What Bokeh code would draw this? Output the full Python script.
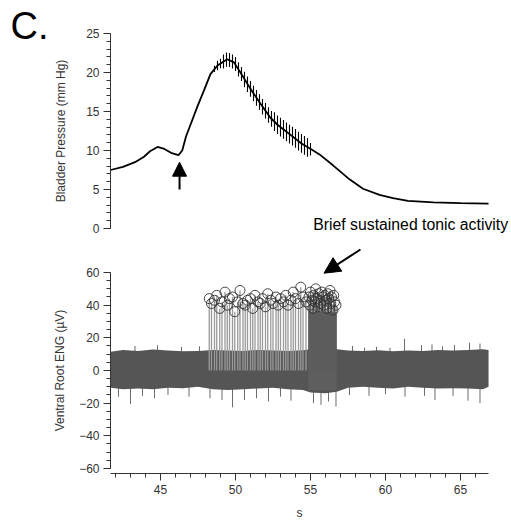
from bokeh.plotting import figure
from bokeh.models import Range1d, Label, Arrow, NormalHead, SingleIntervalTicker, LinearAxis
from bokeh.embed import file_html
from bokeh.resources import INLINE

# ---------------- data ----------------
# bladder pressure trend (s, mm Hg)
press_t = [41.67, 42.5, 43.3, 43.9, 44.3, 44.8, 45.2, 45.7, 46.2, 46.45, 46.7, 47.0, 47.45,
           47.9, 48.33, 48.8, 49.45, 49.9, 50.33, 51.0, 51.67, 52.33, 52.8, 53.67, 54.4,
           55.1, 55.6, 56.5, 57.6, 58.5, 59.6, 60.5, 61.5, 63.2, 65.0, 66.87]
press_v = [7.5, 7.9, 8.5, 9.2, 9.9, 10.45, 10.25, 9.7, 9.4, 10.0, 11.8, 13.3, 15.6,
           17.7, 19.8, 20.9, 21.7, 21.3, 20.0, 17.9, 16.0, 14.2, 13.3, 12.0, 10.9,
           10.1, 9.5, 8.1, 6.3, 5.1, 4.3, 3.9, 3.55, 3.35, 3.25, 3.2]
# pressure pulses (cardiac ripple): time, low, high
pulse_t = [48.6, 48.8, 49.0, 49.2, 49.4, 49.6, 49.8, 50.0, 50.2, 50.4, 50.6, 50.8, 51.0,
           51.2, 51.4, 51.6, 51.8, 52.0, 52.2, 52.4, 52.6, 52.8, 53.0, 53.2, 53.4, 53.6,
           53.8, 54.0, 54.2, 54.4, 54.6, 54.8, 55.0]
pulse_lo = [20.05, 20.3, 20.55, 20.5, 20.75, 20.7, 20.5, 20.2, 19.5, 18.9, 18.1, 17.5, 16.9,
            16.3, 15.75, 15.2, 14.6, 14.1, 13.55, 13.05, 12.5, 12.1, 11.8, 11.5, 11.2, 10.9,
            10.65, 10.35, 10.0, 9.7, 9.45, 9.2, 9.35]
pulse_hi = [20.85, 21.5, 21.75, 22.3, 22.55, 22.5, 22.3, 22.0, 21.3, 20.7, 20.1, 19.5, 18.9,
            18.3, 17.75, 17.2, 16.6, 16.1, 15.55, 15.05, 14.9, 14.5, 14.2, 13.9, 13.6, 13.3,
            13.05, 12.75, 12.4, 12.1, 11.85, 11.6, 10.95]

# ventral root ENG noise envelope (s, µV)
env_t = [41.67, 42.5, 43.5, 44.5, 45.5, 46.5, 47.5, 48.5, 49.5, 50.5, 51.5, 52.5, 53.5, 54.5,
         55.0, 56.0, 56.75, 57.5, 58.5, 59.5, 60.5, 61.5, 62.5, 63.5, 64.5, 65.5, 66.5, 66.87]
env_hi = [11.5, 12.5, 12.0, 12.8, 12.2, 11.8, 12.0, 12.5, 12.3, 12.0, 12.6, 12.2, 12.0, 12.4,
          13.0, 13.5, 13.0, 12.2, 12.0, 12.4, 11.8, 12.2, 12.0, 12.5, 12.2, 12.6, 13.0, 12.5]
env_lo = [-10.5, -11.5, -11.0, -11.5, -10.5, -10.8, -10.0, -11.5, -12.0, -11.5, -11.0, -10.5,
          -11.5, -12.0, -13.5, -14.0, -13.0, -10.5, -10.0, -10.5, -11.0, -10.0, -10.5, -11.0,
          -10.8, -11.0, -11.5, -10.0]
# noise outliers
out_t = [43.3, 44.8, 46.4, 47.6, 57.8, 58.6, 59.4, 60.3, 61.27, 62.4, 63.1, 63.8, 64.6, 65.6, 66.3,
         42.2, 43.0, 43.8, 44.6, 45.5, 46.9, 48.3, 49.1, 49.8, 50.6, 51.4, 52.2, 53.0, 53.7,
         55.2, 55.7, 56.2, 56.7, 57.6, 58.9, 60.0, 61.3, 62.6, 63.3, 64.5, 65.5, 66.3]
out_v = [15, 15.5, 14.5, 14.8, 15, 14, 14.5, 13.8, 19.5, 15.5, 16, 14.8, 15.6, 17, 16.5,
         -16, -20.5, -15.5, -17, -15, -16, -17, -18, -22.5, -18, -17, -19, -16, -18.5,
         -20, -21, -19, -22, -15, -15.5, -14.5, -16, -15.5, -18, -15.6, -18.5, -20]
# detected spikes (sparse part)
spike_t = [48.25, 48.4, 48.6, 48.75, 48.95, 49.1, 49.3, 49.45, 49.6, 49.8, 49.95, 50.15, 50.3,
           50.5, 50.65, 50.8, 51.0, 51.15, 51.3, 51.5, 51.65, 51.8, 52.0, 52.15, 52.35, 52.5,
           52.7, 52.85, 53.0, 53.2, 53.35, 53.5, 53.7, 53.85, 54.0, 54.2, 54.35, 54.5, 54.7]
spike_v = [44, 41, 43, 46, 38, 42, 48, 40, 44, 45, 36, 42, 49, 41, 40, 43, 44, 38, 46, 42,
           41, 44, 39, 47, 43, 41, 45, 40, 44, 42, 46, 40, 43, 48, 44, 41, 51, 45, 42]
# dense tonic burst
burst_t = [54.9, 54.95, 55.0, 55.1, 55.15, 55.2, 55.3, 55.35, 55.4, 55.5, 55.55, 55.6, 55.7,
           55.75, 55.8, 55.9, 55.95, 56.0, 56.1, 56.15, 56.2, 56.3, 56.35, 56.4, 56.5, 56.55,
           56.6, 56.7]
burst_v = [45, 40, 48, 43, 38, 46, 42, 50, 44, 39, 47, 43, 41, 48, 45, 40, 46, 43, 38, 47,
           44, 49, 41, 45, 37, 46, 42, 40]
burst_start, burst_end, burst_top = 54.85, 56.75, 36

X0, X1 = 41.667, 66.867
FONT = "Liberation Sans"
TXT = "#333333"
W, H = 511, 523
PX_S = 15.0        # px per second
PX_ENG = 1.6333    # px per µV
PX_P = 7.8         # px per mm Hg


def style_axis(ax, label):
    ax.axis_line_color = "#333333"
    ax.major_tick_line_color = "#333333"
    ax.minor_tick_line_color = "#333333"
    ax.major_tick_in = 0
    ax.major_tick_out = 7
    ax.minor_tick_in = 0
    ax.minor_tick_out = 4
    ax.major_label_text_font = FONT
    ax.major_label_text_font_size = "12px"
    ax.major_label_text_color = TXT
    ax.axis_label = label
    ax.axis_label_text_font = FONT
    ax.axis_label_text_font_size = "12px"
    ax.axis_label_text_font_style = "normal"
    ax.axis_label_text_color = TXT


# one frame over the whole canvas; both panels share the time scale
p = figure(width=W, height=H,
           x_range=Range1d(X0 - 110 / PX_S, X0 + (W - 110) / PX_S),
           y_range=Range1d(60 - (H - 272) / PX_ENG, 60 + 272 / PX_ENG),
           output_backend="svg", toolbar_location=None,
           min_border_left=0, min_border_right=0, min_border_top=0, min_border_bottom=0)
p.extra_y_ranges = {"press": Range1d(-(H - 228) / PX_P, 228 / PX_P)}
p.outline_line_color = None
p.xgrid.visible = False
p.ygrid.visible = False

# ENG axis (left) and time axis (below), pinned in place
p.yaxis.ticker = SingleIntervalTicker(interval=20, num_minor_ticks=4)
p.yaxis.bounds = (-60, 60)
p.yaxis.fixed_location = X0
style_axis(p.yaxis[0], "Ventral Root ENG (\u00b5V)")
p.yaxis.major_label_standoff = 4
p.yaxis.axis_label_standoff = 9

p.xaxis.ticker = SingleIntervalTicker(interval=5, num_minor_ticks=5)
p.xaxis.bounds = (X0, X1)
p.xaxis.fixed_location = -60 - 5 / PX_ENG
style_axis(p.xaxis[0], "s")
p.xaxis.major_label_standoff = 5
p.xaxis.axis_label_standoff = 8

# pressure axis
pax = LinearAxis(y_range_name="press", ticker=SingleIntervalTicker(interval=5, num_minor_ticks=5),
                 bounds=(0, 25), fixed_location=X0)
style_axis(pax, "Bladder Pressure (mm Hg)")
pax.major_label_standoff = 4
pax.axis_label_standoff = 15
p.add_layout(pax, "left")

# pressure trace
p.line(press_t, press_v, line_color="black", line_width=1.8, y_range_name="press")
p.segment(x0=pulse_t, y0=pulse_lo, x1=pulse_t, y1=pulse_hi, line_color="black",
          line_width=1.1, y_range_name="press")

p.add_layout(Arrow(end=NormalHead(size=14, fill_color="black", line_color="black"),
                   x_start=46.27, y_start=5.0, x_end=46.27, y_end=8.5,
                   line_width=2, line_color="black", y_range_name="press"))
p.add_layout(Label(x=35.0, y=25.9, text="C.", text_font=FONT, text_font_size="38px",
                   text_color="black", text_baseline="middle", y_range_name="press"))
p.add_layout(Label(x=55.18, y=0.51, text="Brief sustained tonic activity", text_font=FONT,
                   text_font_size="15.8px", text_color="black", text_baseline="middle",
                   y_range_name="press"))

# ENG trace
p.segment(x0=out_t, y0=[0] * len(out_t), x1=out_t, y1=out_v, line_color="#6a6a6a", line_width=1)
p.varea(x=env_t, y1=env_lo, y2=env_hi, fill_color="#555555")
p.segment(x0=spike_t, y0=[0] * len(spike_t), x1=spike_t, y1=spike_v, line_color="#9a9a9a", line_width=1.3)
p.quad(left=[burst_start], right=[burst_end], bottom=[-12], top=[burst_top],
       fill_color="#5e5e5e", line_color=None)
p.segment(x0=burst_t, y0=[0] * len(burst_t), x1=burst_t, y1=burst_v, line_color="#5e5e5e", line_width=1)
p.scatter(spike_t, spike_v, size=10, fill_color=None, line_color="#333333", line_width=0.9)
p.scatter(burst_t, burst_v, size=10, fill_color=None, line_color="#333333", line_width=0.9)

p.add_layout(Arrow(end=NormalHead(size=16, fill_color="black", line_color="black"),
                   x_start=58.33, y_start=74.1, x_end=55.9, y_end=59.6,
                   line_width=2, line_color="black"))

open("out.html", "w").write(file_html(p, INLINE))
